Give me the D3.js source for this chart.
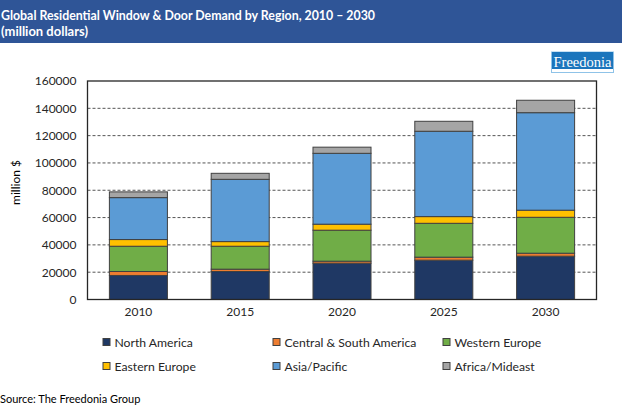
<!DOCTYPE html>
<html>
<head>
<meta charset="utf-8">
<title>Global Residential Window & Door Demand</title>
<style>
	html, body { margin: 0; padding: 0; background: #fff; }
	svg { display: block; }
	text { font-family: Lato, "Open Sans", sans-serif; }
</style>
</head>
<body>
<script src="https://cdn.jsdelivr.net/npm/d3@7/dist/d3.min.js"></script>
<script>
// values, million dollars
var years = ["2010", "2015", "2020", "2025", "2030"];
var regions = ["North America", "Central & South America", "Western Europe", "Eastern Europe", "Asia/Pacific", "Africa/Mideast"];
var northAmerica = [17600, 20500, 26600, 28800, 31700];
var centralSouthAmerica = [2900, 1700, 1450, 2200, 2200];
var westernEurope = [18500, 16800, 22700, 24800, 26300];
var easternEurope = [4900, 3400, 4400, 4900, 5200];
var asiaPacific = [30700, 45600, 51900, 62500, 71400];
var africaMideast = [4200, 4400, 4500, 7300, 9100];
var colors = ["#1F3864", "#ED7D31", "#70AD47", "#FFC000", "#5B9BD5", "#A5A5A5"];
var yTicks = [0, 20000, 40000, 60000, 80000, 100000, 120000, 140000, 160000];
var titleLines = ["Global Residential Window & Door Demand by Region, 2010 \u2013 2030", "(million dollars)"];

var seriesValues = [northAmerica, centralSouthAmerica, westernEurope, easternEurope, asiaPacific, africaMideast];
var rows = years.map(function(y, i) {
	var row = {year: y};
	regions.forEach(function(r, j) { row[r] = seriesValues[j][i]; });
	return row;
});

var svg = d3.select("body").append("svg").attr("width", 622).attr("height", 407);

// header band
svg.append("rect").attr("width", 622).attr("height", 43).attr("fill", "#2F5597");
svg.selectAll("text.title").data(titleLines).enter().append("text")
	.attr("class", "title")
	.attr("x", 1).attr("y", function(d, i) { return 19.5 + i * 16; })
	.attr("fill", "#fff").attr("font-size", 12.8).attr("font-weight", 700)
	.attr("lengthAdjust", "spacingAndGlyphs")
	.attr("textLength", function(d, i) { return i == 0 ? 374 : 87; })
	.text(function(d) { return d; });

// logo
svg.append("rect").attr("x", 551.5).attr("y", 52).attr("width", 62).attr("height", 20.5)
	.attr("fill", "#fff").attr("stroke", "#8FC3E8").attr("stroke-width", 1);
svg.append("rect").attr("x", 552).attr("y", 52).attr("width", 61).attr("height", 17)
	.attr("fill", "#1B75BC");
svg.append("text").attr("x", 582.5).attr("y", 67).attr("text-anchor", "middle")
	.attr("fill", "#fff").attr("font-size", 14.5)
	.style("font-family", "'Liberation Serif', serif")
	.text("Freedonia");

var x = d3.scaleBand().domain(years).range([87.5, 596.5]).paddingInner(0.43).paddingOuter(0.215);
var y = d3.scaleLinear().domain([0, 160000]).range([299.5, 81]);

// dashed grid
svg.selectAll("line.grid").data(yTicks.slice(1, -1)).enter().append("line")
	.attr("class", "grid")
	.attr("x1", 87.5).attr("x2", 596.5)
	.attr("y1", function(d) { return y(d); }).attr("y2", function(d) { return y(d); })
	.attr("stroke", "#555").attr("stroke-width", 1).attr("stroke-dasharray", "3,2");

// stacked bars
var stacked = d3.stack().keys(regions)(rows);
var layers = svg.selectAll("g.layer").data(stacked).enter().append("g")
	.attr("class", "layer")
	.attr("fill", function(d, i) { return colors[i]; });
layers.selectAll("rect").data(function(d) { return d; }).enter().append("rect")
	.attr("x", function(d) { return x(d.data.year); })
	.attr("width", x.bandwidth())
	.attr("y", function(d) { return y(d[1]); })
	.attr("height", function(d) { return y(d[0]) - y(d[1]); })
	.attr("stroke", "#404040").attr("stroke-width", 1);

// plot frame
svg.append("rect").attr("x", 87.5).attr("y", 81).attr("width", 509).attr("height", 218.5)
	.attr("fill", "none").attr("stroke", "#262626").attr("stroke-width", 1.3);

// axes
var yAxis = d3.axisLeft(y).tickValues(yTicks).tickSize(0).tickPadding(11).tickFormat(d3.format("d"));
var yG = svg.append("g").attr("transform", "translate(87.5,0)").call(yAxis);
yG.select(".domain").remove();
yG.selectAll("text").attr("font-size", 12).attr("fill", "#262626").style("font-family", "Lato, sans-serif");

var xAxis = d3.axisBottom(x).tickSize(0).tickPadding(8);
var xG = svg.append("g").attr("transform", "translate(0,299.5)").call(xAxis);
xG.select(".domain").remove();
xG.selectAll("text").attr("font-size", 12).attr("fill", "#262626").style("font-family", "Lato, sans-serif");

svg.append("text").attr("transform", "translate(20,182.5) rotate(-90)")
	.attr("text-anchor", "middle").attr("font-size", 12).attr("fill", "#000")
	.text("million $");

// legend, 3 columns by 2 rows
var legendX = [103, 273, 443];
var legendY = [342, 366];
var legend = svg.selectAll("g.legend").data(regions).enter().append("g")
	.attr("class", "legend")
	.attr("transform", function(d, i) { return "translate(" + legendX[i % 3] + "," + legendY[Math.floor(i / 3)] + ")"; });
legend.append("rect").attr("x", 0).attr("y", -3.5).attr("width", 7).attr("height", 7)
	.attr("fill", function(d, i) { return colors[i]; })
	.attr("stroke", "#404040").attr("stroke-width", 1);
legend.append("text").attr("x", 11.5).attr("y", 4.5)
	.attr("font-size", 12.2).attr("fill", "#262626")
	.text(function(d) { return d; });

svg.append("text").attr("x", 0).attr("y", 403).attr("font-size", 11).attr("fill", "#000")
	.text("Source: The Freedonia Group");
</script>
</body>
</html>
